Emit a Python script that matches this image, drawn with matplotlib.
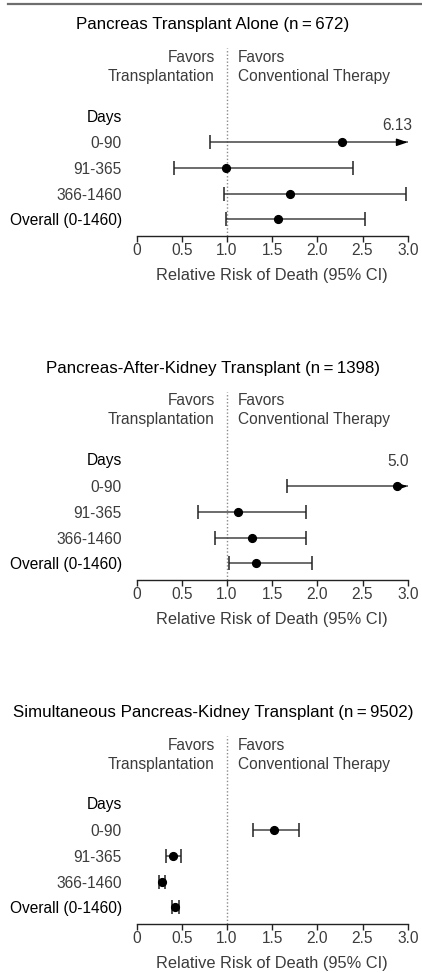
import matplotlib
matplotlib.use("Agg")
import matplotlib.pyplot as plt
from matplotlib.lines import Line2D

plt.rcParams['font.family'] = ['Liberation Sans', 'DejaVu Sans']

# ---------------- data ----------------
row_labels = ["0-90", "91-365", "366-1460", "Overall (0-1460)"]
titles = [
    "Pancreas Transplant Alone (n\u2009=\u2009672)",
    "Pancreas-After-Kidney Transplant (n\u2009=\u20091398)",
    "Simultaneous Pancreas-Kidney Transplant (n\u2009=\u20099502)",
]
pta_rr = [2.27, 0.99, 1.70, 1.57]
pta_lo = [0.81, 0.41, 0.97, 0.99]
pta_hi = [6.13, 2.39, 2.98, 2.53]

pak_rr = [2.88, 1.12, 1.28, 1.32]
pak_lo = [1.67, 0.68, 0.87, 1.02]
pak_hi = [5.0, 1.87, 1.88, 1.94]

spk_rr = [1.52, 0.40, 0.285, 0.43]
spk_lo = [1.29, 0.33, 0.25, 0.39]
spk_hi = [1.80, 0.49, 0.32, 0.47]

x_ticks = [0, 0.5, 1.0, 1.5, 2.0, 2.5, 3.0]
x_ticklabels = ["0", "0.5", "1.0", "1.5", "2.0", "2.5", "3.0"]
offscale_labels = ["6.13", "5.0", None]

panels = [(pta_rr, pta_lo, pta_hi), (pak_rr, pak_lo, pak_hi), (spk_rr, spk_lo, spk_hi)]

# ---------------- layout ----------------
W, H = 422, 973
fig = plt.figure(figsize=(W / 100, H / 100), dpi=100)
GREY = '#3c3c3c'
XMAX = 3.0
FS = 11.2

# top rule
fig.add_artist(Line2D([8 / W, 1.0], [1 - 4 / H, 1 - 4 / H], color='#6e6e6e', lw=1.6,
                      transform=fig.transFigure))

ax_left, ax_right = 136.5, 407.7
ax_top, ax_bot = 48, 236
row0, rowstep = 142.3, 25.7
unit = (ax_right - ax_left) / XMAX

for k, (rr, lo, hi) in enumerate(panels):
    o = 344 * k
    ax = fig.add_axes([ax_left / W, 1 - (ax_bot + o) / H,
                       (ax_right - ax_left) / W, (ax_bot - ax_top) / H])
    ax.set_xlim(0, XMAX)
    ax.set_ylim((ax_bot - row0) / rowstep, -(row0 - ax_top) / rowstep)
    for s in ['top', 'right', 'left']:
        ax.spines[s].set_visible(False)
    ax.spines['bottom'].set_linewidth(1.0)
    ax.spines['bottom'].set_color('#222222')
    ax.set_xticks(x_ticks)
    ax.set_xticklabels(x_ticklabels, fontsize=FS, color=GREY)
    ax.tick_params(axis='x', length=4, width=1.0, pad=1.0, color='#222222')
    ax.set_yticks(range(len(row_labels)))
    ax.set_yticklabels(row_labels, fontsize=FS)
    ax.tick_params(axis='y', length=0, pad=10.5)
    for i, t in enumerate(ax.get_yticklabels()):
        t.set_color('black' if i == len(row_labels) - 1 else GREY)
    ax.patch.set_visible(False)

    # reference line
    ax.axvline(1.0, color='#8a8a8a', lw=1.0, ls=(0, (1, 1.5)), zorder=1)

    for i in range(len(rr)):
        upper = min(hi[i], XMAX)
        ax.plot([lo[i], upper], [i, i], color='#444444', lw=1.1, zorder=2, solid_capstyle='butt')
        ax.plot([lo[i]], [i], marker='|', ms=9.5, mew=1.1, color='#222222', zorder=2)
        if hi[i] > XMAX:
            ax.annotate('', xy=(XMAX, i), xytext=(XMAX - 0.12, i),
                        arrowprops=dict(arrowstyle='-|>,head_length=0.65,head_width=0.22',
                                        color='black', lw=1.0, shrinkA=0, shrinkB=0),
                        annotation_clip=False, zorder=3)
        else:
            ax.plot([upper], [i], marker='|', ms=9.5, mew=1.1, color='#222222', zorder=2)
        ax.plot([rr[i]], [i], marker='o', ms=5.6, color='black', zorder=4)

    if offscale_labels[k]:
        yl = (125 - row0) / rowstep if k == 0 else (117.7 - row0) / rowstep
        ax.text((412 - ax_left) / unit if k == 0 else (408.5 - ax_left) / unit, yl,
                offscale_labels[k], ha='right', va='center', fontsize=FS, color=GREY,
                clip_on=False)

    # Days header
    ax.text(-(ax_left - 122) / unit, (117 - row0) / rowstep, "Days", ha='right', va='center',
            fontsize=FS, color='black', clip_on=False)
    # Favors labels
    for txt, ypx in [("Favors", 57), ("Transplantation", 76)]:
        ax.text((215 - ax_left) / unit, (ypx - row0) / rowstep, txt, ha='right', va='center',
                fontsize=FS, color=GREY, clip_on=False)
    for txt, ypx in [("Favors", 57), ("Conventional Therapy", 76)]:
        ax.text((238 - ax_left) / unit, (ypx - row0) / rowstep, txt, ha='left', va='center',
                fontsize=FS, color=GREY, clip_on=False)

    # x label
    ax.text(0.5, -(275.5 - ax_bot) / (ax_bot - ax_top), "Relative Risk of Death (95% CI)",
            transform=ax.transAxes, ha='center', va='center', fontsize=11.8, color=GREY)

    # title
    fig.text(213 / W, 1 - (24 + o) / H, titles[k], ha='center', va='center',
             fontsize=12.2, color='black')

fig.savefig("out.png", dpi=100)
